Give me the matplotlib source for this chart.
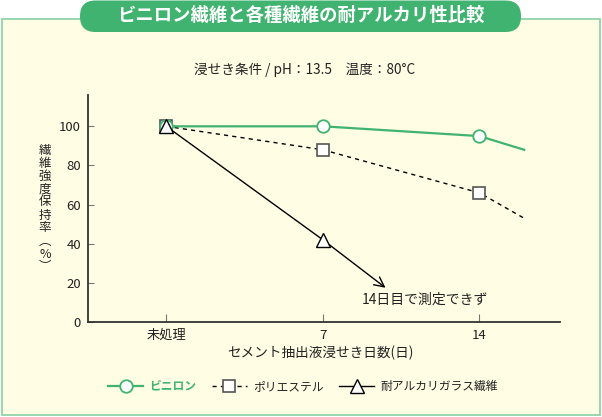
import numpy as np
import matplotlib
matplotlib.use("Agg")
import matplotlib.pyplot as plt
from matplotlib.lines import Line2D
from matplotlib.patches import FancyBboxPatch, Rectangle

plt.rcParams['font.family'] = ['Noto Sans CJK JP', 'DejaVu Sans']

# data
days = [0, 7, 14, 16]
tick_days = [0, 7, 14]
tick_labels = ['未処理', '7', '14']
vinylon = [100, 100, 95, 88]
polyester = [100, 88, 66, 53]
glass_days = [0, 7]
glass = [100, 42]
glass_arrow_end = (9.8, 17.5)   # 14日目で測定できず

GREEN = '#3fb36f'
BG = '#fffde4'
DARK = '#222222'

fig = plt.figure(figsize=(6.02, 4.17), dpi=100)
fig.patch.set_facecolor('white')

# background frame + title pill, in pixel coords
bg = fig.add_axes([0, 0, 1, 1], zorder=-1)
bg.set_xlim(0, 602)
bg.set_ylim(417, 0)
bg.axis('off')
bg.add_patch(Rectangle((1.5, 18.5), 598.5, 396, facecolor=BG, edgecolor='#88d1a2', lw=1.2))
bg.add_patch(FancyBboxPatch((80, 0.5), 441, 31.5, boxstyle='round,pad=0,rounding_size=15.5',
                            facecolor=GREEN, edgecolor='none'))

fig.text(0.5, 0.962, 'ビニロン繊維と各種繊維の耐アルカリ性比較', color='white',
         fontsize=13.2, fontweight='bold', ha='center', va='center')
fig.text(0.506, 0.832, '浸せき条件 / pH：13.5　温度：80°C', color=DARK,
         fontsize=9.8, ha='center', va='center')

ax = fig.add_axes([88/602, 1 - 322/417, 472/602, 227/417])
ax.set_facecolor('none')

# polyester
ax.plot(days, polyester, color='black', lw=1.0, ls=(0, (3, 3)), marker='s', ms=8.5,
        mfc='white', mec='#555555', mew=1.2, markevery=[0, 1, 2], zorder=3)
# vinylon
ax.plot(days, vinylon, color=GREEN, lw=1.6, marker='o', ms=9,
        mfc='white', mec=GREEN, mew=1.3, markevery=[0, 1, 2], zorder=4)
# alkali resistant glass
ax.annotate('', xy=glass_arrow_end, xytext=(glass_days[-1], glass[-1]),
            arrowprops=dict(arrowstyle='->,head_length=0.7,head_width=0.35',
                            color='black', lw=1.0, shrinkA=0, shrinkB=0), zorder=5)
ax.plot(glass_days, glass, color='black', lw=1.0, marker='^', ms=10,
        mfc='white', mec='black', mew=1.0, zorder=5)
ax.text(8.75, 11.3, '14日目で測定できず', fontsize=10, color=DARK, ha='left', va='center')

ax.set_xlim(-3.5, 17.6)
ax.set_ylim(0, 116)
ax.set_xticks(tick_days)
ax.set_xticklabels(tick_labels)
ax.set_yticks(np.arange(0, 101, 20))
ax.tick_params(axis='both', direction='in', color='#777777', labelsize=9.5, labelcolor=DARK)
ax.tick_params(axis='x', length=6, pad=5)
ax.tick_params(axis='y', length=4, pad=5)
for s in ['top', 'right']:
    ax.spines[s].set_visible(False)
for s in ['left', 'bottom']:
    ax.spines[s].set_color('#333333')
    ax.spines[s].set_linewidth(1.3)

ax.set_xlabel('セメント抽出液浸せき日数(日)', fontsize=9.8, color=DARK, va='center')
ax.xaxis.set_label_coords(0.4915, -0.137)
ax.set_ylabel('\n'.join('繊維強度保持率︵%︶'), fontsize=9, color=DARK,
              rotation=0, ha='center', va='center', linespacing=1.0)
ax.yaxis.set_label_coords(-0.091, 0.5)

handles = [
    Line2D([], [], color=GREEN, lw=1.6, marker='o', ms=9, mfc='white', mec=GREEN, mew=1.3),
    Line2D([], [], color='black', lw=1.0, ls=(0, (3, 3)), marker='s', ms=8.5, mfc='white',
           mec='#555555', mew=1.2),
    Line2D([], [], color='black', lw=1.0, marker='^', ms=10, mfc='white', mec='black', mew=1.0),
]
labels = ['ビニロン', 'ポリエステル', '耐アルカリガラス繊維']
leg = fig.legend(handles, labels, loc='center', bbox_to_anchor=(0.503, 0.074), ncol=3,
                 frameon=False, fontsize=8.5, handlelength=3.0, handletextpad=0.5,
                 columnspacing=1.3)
texts = leg.get_texts()
texts[0].set_color(GREEN)
texts[0].set_fontweight('bold')
for t in texts[1:]:
    t.set_color(DARK)

fig.savefig('out.png', dpi=100, facecolor=fig.get_facecolor())
